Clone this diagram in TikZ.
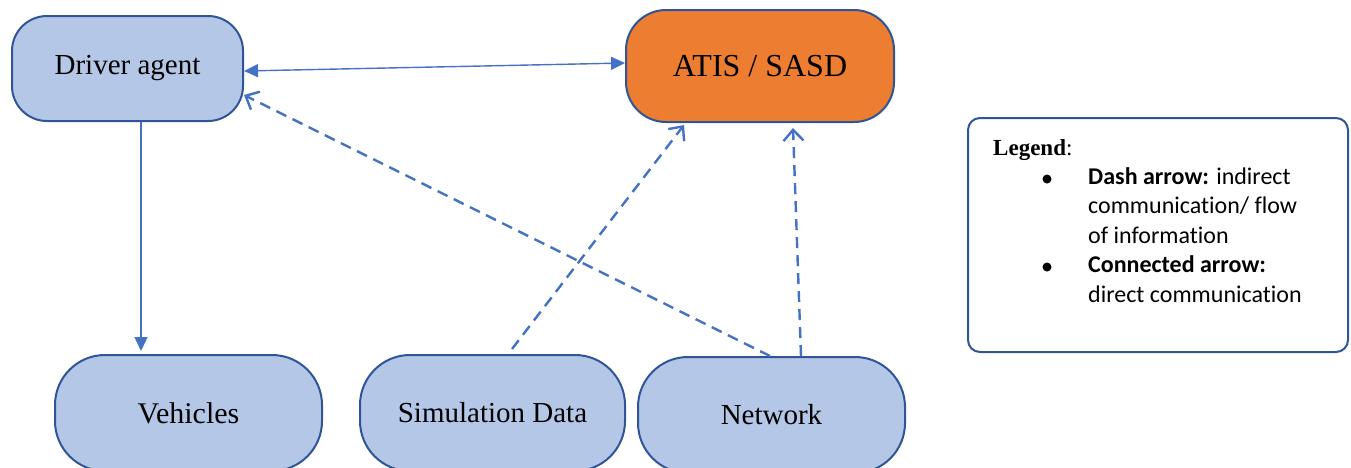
\documentclass[tikz,border=0pt]{standalone}
\usepackage{fontspec}
\setmainfont{Liberation Serif}
\newfontfamily\legendfont[RawFeature=-liga]{Carlito}
\usetikzlibrary{arrows.meta}
\definecolor{boxfill}{HTML}{B4C7E7}
\definecolor{boxline}{HTML}{2F5597}
\definecolor{atisfill}{HTML}{ED7D31}
\definecolor{arrowblue}{HTML}{4472C4}
\begin{document}
\begin{tikzpicture}[x=1pt,y=-1pt,
  block/.style={draw=boxline, line width=2pt, fill=boxfill, rounded corners=#1, inner sep=0pt},
  solidarrow/.style={draw=arrowblue, line width=1.4pt},
  tri/.tip={Triangle[length=14pt,width=13pt]},
  barb/.tip={Straight Barb[length=11pt,width=20pt]},
  dasharrow/.style={draw=arrowblue, line width=2.4pt, dash pattern=on 11pt off 7pt, -barb},
  legtext/.style={anchor=base west, inner sep=0pt, font=\legendfont\fontsize{24}{29}\selectfont},
  bullet/.style={circle, fill=black, inner sep=0pt, minimum size=9pt}
]
\useasboundingbox (0,0) rectangle (1351,467);
\clip (0,0) rectangle (1351,467);

% main blocks
\node[block=35, minimum width=231, minimum height=105, font=\fontsize{29}{34}\selectfont] (drv) at (127.5,68.5) {Driver agent};
\node[block=40, fill=atisfill, minimum width=268, minimum height=112, font=\fontsize{32}{38}\selectfont] (atis) at (760,66) {ATIS / SASD};
\node[block=50, minimum width=267, minimum height=116, font=\fontsize{30}{36}\selectfont] (veh) at (188.5,413) {Vehicles};
\node[block=50, minimum width=265, minimum height=116, font=\fontsize{29}{35}\selectfont] (sim) at (492.5,413) {Simulation Data};
\node[block=50, minimum width=267, minimum height=116, font=\fontsize{29}{35}\selectfont] (net) at (771.5,415) {Network};

% direct communication
\draw[solidarrow, tri-tri] ([yshift=-2.5pt]drv.east) -- ([yshift=3pt]atis.west);
\draw[solidarrow, -tri] ([xshift=13.5pt]drv.south) -- ([xshift=13.5pt,yshift=3pt]drv.south |- veh.north);

% indirect communication
\draw[dasharrow] ([xshift=-1.5pt]net.north) -- ([yshift=-26.5pt]drv.east);
\draw[dasharrow] ([xshift=19.5pt,yshift=5pt]sim.north) -- ([xshift=-76pt,yshift=-2pt]atis.south);
\draw[dasharrow] ([xshift=29.5pt]net.north) -- ([xshift=33pt,yshift=-5pt]atis.south);

% legend
\node[draw=boxline, line width=2pt, rounded corners=12, minimum width=380, minimum height=234] (leg) at (1158,235) {};
\node[anchor=base west, inner sep=0pt, font=\fontsize{23}{27}\selectfont] (legtitle) at (993,155) {\textbf{Legend}:};
\node[bullet] (b1) at (1047,179) {};
\node[bullet] (b2) at (1047,267) {};
\node[legtext] (l1) at (1088,184) {\textbf{Dash arrow:} indirect};
\node[legtext] (l2) at (1088,213.5) {communication/ flow};
\node[legtext] (l3) at (1088,243) {of information};
\node[legtext] (l4) at (1088,272.5) {\textbf{Connected arrow:}};
\node[legtext] (l5) at (1088,302) {direct communication};
\end{tikzpicture}
\end{document}
